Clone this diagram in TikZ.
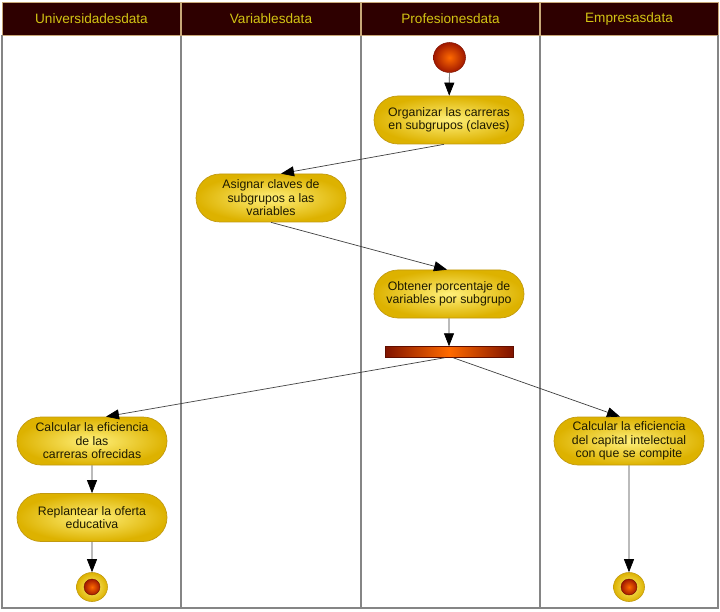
\documentclass[tikz,border=0pt]{standalone}
\usepackage{fontspec}
\setmainfont{Liberation Sans}
\usetikzlibrary{shapes.misc,shapes.geometric,arrows.meta,calc}
\definecolor{hdr}{HTML}{2E0000}
\definecolor{hdrtxt}{HTML}{D2C414}
\definecolor{hdrline}{HTML}{C8A878}
\definecolor{goldin}{HTML}{FFF07A}
\definecolor{goldout}{HTML}{DDB200}
\definecolor{goldline}{HTML}{C29A10}
\definecolor{acttxt}{HTML}{1E1A00}
\definecolor{redin}{HTML}{FF6A00}
\definecolor{redout}{HTML}{A01800}
\definecolor{laneline}{HTML}{858585}
\begin{document}
\begin{tikzpicture}[x=1pt,y=-1pt,
  act/.style={rounded rectangle, minimum width=154pt, minimum height=48pt, inner sep=2pt,
    draw=goldline, line width=0.7pt, inner color=goldin, outer color=goldout,
    font=\fontsize{12.3}{13.5}\selectfont, text=acttxt, align=center},
  hdrlbl/.style={font=\fontsize{13.6}{15}\selectfont, text=hdrtxt},
  arr/.style={draw=black!75, line width=0.7pt, -{Triangle[length=13pt,width=10pt,color=black]}},
  startnode/.style={ellipse, minimum width=32pt, minimum height=30pt, inner sep=0pt,
    inner color=redin, outer color=redout, draw=redout!80!black, line width=0.5pt},
  endouter/.style={ellipse, minimum width=31pt, minimum height=29pt, inner sep=0pt,
    inner color=goldin, outer color=goldout, draw=goldline, line width=0.6pt},
  enddot/.style={ellipse, minimum width=16pt, minimum height=16pt, inner sep=0pt,
    inner color=redin, outer color=redout, draw=redout!70!black, line width=0.4pt},
  barnode/.style={rectangle, minimum width=128pt, minimum height=11pt, inner sep=0pt,
    left color=redout!80!black, right color=redout!80!black, middle color=redin, draw=redout!60!black, line width=0.4pt}
]
\useasboundingbox (0,0) rectangle (720,612);
\fill[white] (0,0) rectangle (720,612);
% header
\fill[hdr] (2,2) rectangle (718,35);
% lanes
\foreach \x in {181,361,540} {
  \draw[laneline, line width=1.1pt] (\x,35) -- (\x,608);
  \draw[hdrline, line width=1.1pt] (\x,2) -- (\x,35);
}
\draw[hdrline, line width=0.8pt] (2,2) rectangle (718,35);
\draw[laneline, line width=1.4pt] (2,35) -- (2,608) -- (718,608) -- (718,35);
\node[hdrlbl] (h1) at (91.5,19) {Universidadesdata};
\node[hdrlbl] (h2) at (271,19) {Variablesdata};
\node[hdrlbl] (h3) at (450.5,19) {Profesionesdata};
\node[hdrlbl] (h4) at (629,19) {Empresasdata};

% nodes
\node[startnode] (start) at (449.5,57.5) {};
\node[act] (org) at (449,120) {Organizar las carreras\\en subgrupos (claves)};
\node[act] (asig) at (271,198) {Asignar claves de\\subgrupos a las\\variables};
\node[act] (obt) at (449,294) {Obtener porcentaje de\\variables por subgrupo};
\node[barnode] (bar) at (449,352) {};
\node[act] (calcL) at (92,441) {Calcular la eficiencia\\de las\\carreras ofrecidas};
\node[act] (repl) at (92,517.5) {Replantear la oferta\\educativa};
\node[endouter] (endL) at (92,587) {};
\node[enddot] (endLd) at (92,587) {};
\node[act] (calcR) at (629,441) {Calcular la eficiencia\\del capital intelectual\\con que se compite};
\node[endouter] (endR) at (629,587) {};
\node[enddot] (endRd) at (629,587) {};

% connectors
\draw[arr] (start) -- (org);
\draw[arr] ($(org.south)+(-5,0)$) -- ($(asig.north)+(10,0)$);
\draw[arr] (asig.south) -- ($(obt.north)+(-2,0)$);
\draw[arr] (obt) -- (bar);
\draw[arr] ($(bar.south)+(-4,0)$) -- ($(calcL.north)+(14,0)$);
\draw[arr] ($(bar.south)+(4,0)$) -- ($(calcR.north)+(-9,0)$);
\draw[arr] (calcL) -- (repl);
\draw[arr] (repl) -- (endL);
\draw[arr] (calcR) -- (endR);
\end{tikzpicture}
\end{document}
